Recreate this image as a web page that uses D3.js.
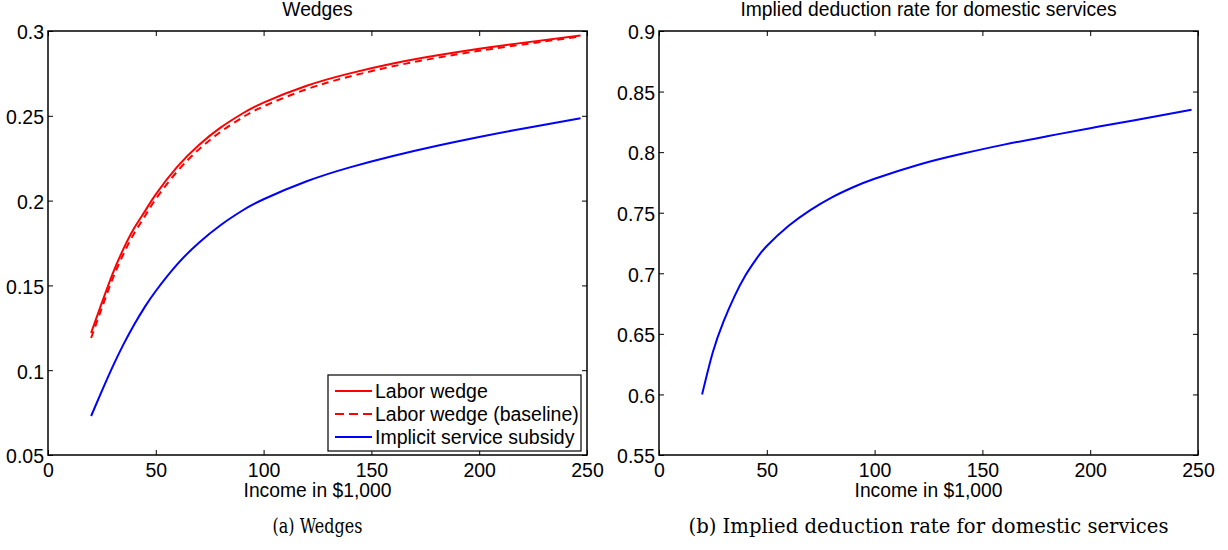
<!DOCTYPE html>
<html>
<head>
<meta charset="utf-8">
<script src="https://cdnjs.cloudflare.com/ajax/libs/d3/7.8.5/d3.min.js"></script>
<style>
  body { margin: 0; background: #fff; }
  text { font-family: "Liberation Sans", Arial, sans-serif; fill: #000; }
  .caption { font-family: "DejaVu Serif", "Liberation Serif", serif; }
</style>
</head>
<body>
<div id="chart"></div>
<script>
// values
var income = [20, 25, 30, 35, 40, 45, 50, 60, 70, 80, 90, 100, 120, 140, 160, 180, 200, 220, 247];
var laborWedge = [0.122, 0.1398, 0.157, 0.1715, 0.1838, 0.1938, 0.2037, 0.2200, 0.2328, 0.2430, 0.2512, 0.2578, 0.2677, 0.2750, 0.2808, 0.2855, 0.2895, 0.2930, 0.2974];
var laborWedgeBase = [0.119, 0.1368, 0.154, 0.1685, 0.1808, 0.1909, 0.2009, 0.2173, 0.2302, 0.2405, 0.2489, 0.2556, 0.2657, 0.2732, 0.2792, 0.2841, 0.2883, 0.2920, 0.2968];
var serviceSubsidy = [0.073, 0.0878, 0.1021, 0.1152, 0.1270, 0.1375, 0.1467, 0.1625, 0.1752, 0.1855, 0.1940, 0.2008, 0.2114, 0.2196, 0.2263, 0.2322, 0.2375, 0.2424, 0.2485];
var deductionRate = [0.600, 0.635, 0.6605, 0.681, 0.698, 0.7115, 0.7225, 0.739, 0.752, 0.7625, 0.771, 0.778, 0.7894, 0.7984, 0.8062, 0.8131, 0.8198, 0.8262, 0.835];

var xTicks = [0, 50, 100, 150, 200, 250];
var yTicksA = [0.05, 0.1, 0.15, 0.2, 0.25, 0.3];
var yTicksB = [0.55, 0.6, 0.65, 0.7, 0.75, 0.8, 0.85, 0.9];

var legendNames = ["Labor wedge", "Labor wedge (baseline)", "Implicit service subsidy"];

var svg = d3.select("#chart").append("svg")
    .attr("width", 1228)
    .attr("height", 550);

function zip(ys) {
    return income.map(function(x, i) { return {x: x, y: ys[i]}; });
}

function drawPanel(opt) {
    var width = 539, height = 424;
    var g = svg.append("g")
        .attr("transform", "translate(" + opt.left + "," + opt.top + ")");

    var x = d3.scaleLinear().domain([0, 250]).range([0, width]);
    var y = d3.scaleLinear().domain(opt.yDomain).range([height, 0]);
    var fmt = d3.format("~g");

    // ticks inward on all four sides
    g.append("g")
        .attr("class", "axis axis--x")
        .attr("transform", "translate(0," + height + ")")
        .call(d3.axisBottom(x).tickValues(xTicks).tickSize(-5).tickPadding(8).tickFormat(fmt));
    g.append("g")
        .call(d3.axisTop(x).tickValues(xTicks).tickSize(-5).tickFormat(""));
    g.append("g")
        .attr("class", "axis axis--y")
        .call(d3.axisLeft(y).tickValues(opt.yTicks).tickSize(-5).tickPadding(4).tickFormat(fmt));
    g.append("g")
        .attr("transform", "translate(" + width + ",0)")
        .call(d3.axisRight(y).tickValues(opt.yTicks).tickSize(-5).tickFormat(""));

    g.selectAll(".domain").remove();
    g.selectAll(".tick line").attr("stroke", "#000").attr("stroke-width", 1);
    g.selectAll(".tick text").attr("font-size", 19.5).attr("font-family", "Liberation Sans");
    g.selectAll(".axis--y .tick text").attr("dy", "0.4em");

    g.append("rect")
        .attr("width", width)
        .attr("height", height)
        .attr("fill", "none")
        .attr("stroke", "#000")
        .attr("stroke-width", 1.5);

    var line = d3.line()
        .x(function(d) { return x(d.x); })
        .y(function(d) { return y(d.y); })
        .curve(d3.curveNatural);

    opt.series.forEach(function(s) {
        g.append("path")
            .datum(zip(s.values))
            .attr("fill", "none")
            .attr("stroke", s.color)
            .attr("stroke-width", 2)
            .attr("stroke-dasharray", s.dash || null)
            .attr("d", line);
    });

    g.append("text")
        .attr("x", width / 2)
        .attr("y", -15)
        .attr("text-anchor", "middle")
        .attr("font-size", 19.3)
        .text(opt.title);

    g.append("text")
        .attr("x", width / 2)
        .attr("y", height + 42)
        .attr("text-anchor", "middle")
        .attr("font-size", 19.3)
        .text("Income in $1,000");

    g.append("text")
        .attr("class", "caption")
        .attr("x", width / 2)
        .attr("y", height + 78)
        .attr("text-anchor", "middle")
        .attr("font-size", 21)
        .attr("textLength", opt.captionWidth)
        .attr("lengthAdjust", "spacingAndGlyphs")
        .text(opt.caption);

    return {g: g, width: width, height: height};
}

var panelA = drawPanel({
    left: 48, top: 31,
    yDomain: [0.05, 0.3], yTicks: yTicksA,
    title: "Wedges", caption: "(a) Wedges", captionWidth: 90,
    series: [
        {values: laborWedge, color: "#ff0000"},
        {values: laborWedgeBase, color: "#ff0000", dash: "7,5"},
        {values: serviceSubsidy, color: "#0000ff"}
    ]
});

drawPanel({
    left: 659, top: 31,
    yDomain: [0.55, 0.9], yTicks: yTicksB,
    title: "Implied deduction rate for domestic services",
    caption: "(b) Implied deduction rate for domestic services", captionWidth: 480,
    series: [
        {values: deductionRate, color: "#0000ff"}
    ]
});

// legend, lower right of the left panel
var legendColors = ["#ff0000", "#ff0000", "#0000ff"];
var legendDash = [null, "9,5", null];
var leg = panelA.g.append("g")
    .attr("transform", "translate(280,344)");
leg.append("rect")
    .attr("width", 253)
    .attr("height", 76)
    .attr("fill", "#fff")
    .attr("stroke", "#000")
    .attr("stroke-width", 1.2);
legendNames.forEach(function(name, i) {
    var row = leg.append("g").attr("transform", "translate(0," + (16 + i * 23) + ")");
    row.append("line")
        .attr("x1", 7).attr("x2", 44)
        .attr("stroke", legendColors[i])
        .attr("stroke-width", 2)
        .attr("stroke-dasharray", legendDash[i]);
    row.append("text")
        .attr("x", 47)
        .attr("dy", "0.36em")
        .attr("font-size", 19.5)
        .text(name);
});
</script>
</body>
</html>
